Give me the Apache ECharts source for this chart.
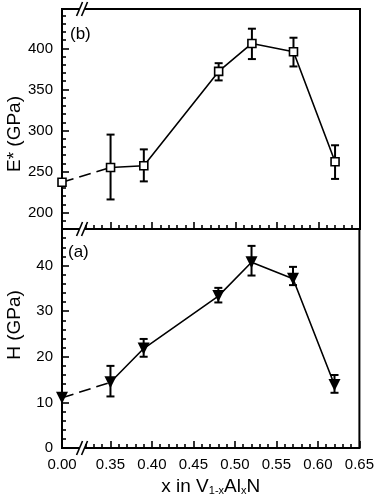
<!DOCTYPE html>
<html>
<head>
<meta charset="utf-8">
<script src="https://cdn.jsdelivr.net/npm/echarts@6/dist/echarts.min.js"></script>
<style>
  html, body { margin: 0; padding: 0; background: #fff; }
  #main { width: 377px; height: 500px; }
</style>
</head>
<body>
<div id="main"></div>
<script>
// composition x of V1-xAlxN
var xValues = [0.00, 0.35, 0.39, 0.48, 0.52, 0.57, 0.62];
// (b) reduced modulus E* (GPa)
var eValues = [237, 255, 257, 372, 406, 396, 262];
var eUpper = [237, 295, 277, 382, 424, 413, 282];
var eLower = [237, 216, 238, 361, 387, 378, 241];
// (a) hardness H (GPa)
var hValues = [11, 14.4, 21.8, 33.3, 40.7, 37.1, 13.8];
var hUpper = [11, 18, 23.9, 35.1, 44.3, 39.7, 16];
var hLower = [11, 11.3, 20, 31.9, 37.8, 35.7, 12.1];

// tick labels
var xTicks = [0.35, 0.40, 0.45, 0.50, 0.55, 0.60, 0.65];
var eTicks = [200, 250, 300, 350, 400];
var hTicks = [0, 10, 20, 30, 40];

// x = 0 sits just left of the axis break
var X_BREAK = 0.2916;
function toAxis(x) { return x === 0 ? X_BREAK : x; }

function minorTicks(from, to, step, majors) {
  var out = [];
  var n = Math.round((to - from) / step);
  for (var i = 0; i <= n; i++) {
    var v = +(from + i * step).toFixed(4);
    if (majors.every(function (m) { return Math.abs(m - v) > 1e-6; })) out.push(v);
  }
  return out;
}

var xMinor = minorTicks(0.32, 0.64, 0.01, xTicks);
var eMinor = minorTicks(190, 440, 10, eTicks);
var hMinor = minorTicks(2, 46, 2, hTicks);

var FONT = 'Liberation Sans, Arial, sans-serif';
var lineW = 2;

function pts(vals) {
  return xValues.map(function (x, i) { return [toAxis(x), vals[i]]; });
}
function bars(lo, hi) {
  return xValues.map(function (x, i) { return [toAxis(x), lo[i], hi[i]]; });
}

function majorX(gridIndex, withLabels) {
  return {
    type: 'value', gridIndex: gridIndex, position: 'bottom',
    min: X_BREAK, max: 0.65,
    splitLine: { show: false },
    axisLine: { lineStyle: { color: '#000', width: lineW } },
    axisTick: { inside: true, length: 7, customValues: xTicks, lineStyle: { color: '#000', width: 1.6 } },
    axisLabel: {
      show: withLabels, customValues: [X_BREAK].concat(xTicks), margin: 9,
      color: '#000', fontSize: 15, fontFamily: FONT,
      formatter: function (v) { return Math.abs(v - X_BREAK) < 1e-6 ? '0.00' : v.toFixed(2); }
    },
    name: withLabels ? 'x in V{s|1-x}Al{s|x}N' : '',
    nameLocation: 'middle', nameGap: 29,
    nameTextStyle: {
      color: '#000', fontSize: 19, fontFamily: FONT,
      rich: { s: { fontSize: 11, fontFamily: FONT, color: '#000', verticalAlign: 'bottom', padding: [6, 0, 0, 0] } }
    }
  };
}
function minorX(gridIndex) {
  return {
    type: 'value', gridIndex: gridIndex, position: 'bottom',
    min: X_BREAK, max: 0.65,
    splitLine: { show: false }, axisLine: { show: false }, axisLabel: { show: false },
    axisTick: { inside: true, length: 4, customValues: xMinor, lineStyle: { color: '#000', width: 1.6 } }
  };
}
function majorY(gridIndex, min, max, ticks) {
  return {
    type: 'value', gridIndex: gridIndex, position: 'left', min: min, max: max,
    splitLine: { show: false },
    axisLine: { show: true, lineStyle: { color: '#000', width: lineW } },
    axisTick: { show: true, inside: true, length: 7, customValues: ticks, lineStyle: { color: '#000', width: 1.6 } },
    axisLabel: { customValues: ticks, margin: 9, color: '#000', fontSize: 15, fontFamily: FONT }
  };
}
function minorY(gridIndex, min, max, ticks) {
  return {
    type: 'value', gridIndex: gridIndex, position: 'left', min: min, max: max,
    splitLine: { show: false }, axisLine: { show: false }, axisLabel: { show: false },
    axisTick: { show: true, inside: true, length: 4, customValues: ticks, lineStyle: { color: '#000', width: 1.6 } }
  };
}

function errorSeries(xi, yi, data) {
  return {
    type: 'custom', xAxisIndex: xi, yAxisIndex: yi, z: 3, data: data,
    renderItem: function (params, api) {
      var lo = api.value(1), hi = api.value(2);
      if (hi - lo < 1e-6) return null;
      var a = api.coord([api.value(0), lo]);
      var b = api.coord([api.value(0), hi]);
      var w = 4;
      var st = { stroke: '#000', lineWidth: 2 };
      return {
        type: 'group', children: [
          { type: 'line', shape: { x1: a[0], y1: a[1], x2: b[0], y2: b[1] }, style: st },
          { type: 'line', shape: { x1: a[0] - w, y1: a[1], x2: a[0] + w, y2: a[1] }, style: st },
          { type: 'line', shape: { x1: b[0] - w, y1: b[1], x2: b[0] + w, y2: b[1] }, style: st }
        ]
      };
    }
  };
}

function lineSeries(xi, yi, data, dashed) {
  return {
    type: 'line', xAxisIndex: xi, yAxisIndex: yi, data: data, z: 2,
    showSymbol: false, symbol: 'none', silent: true,
    lineStyle: { color: '#000', width: 1.6, type: dashed ? [12, 6] : 'solid' }
  };
}

var ePts = pts(eValues);
var hPts = pts(hValues);

var chart = echarts.init(document.getElementById('main'));

var option = {
  animation: false,
  backgroundColor: '#fff',
  grid: [
    { left: 62, right: 17, top: 9, height: 220, show: true, borderColor: '#000', borderWidth: lineW, backgroundColor: 'transparent' },
    { left: 62, right: 17, top: 229, height: 219, show: true, borderColor: '#000', borderWidth: lineW, backgroundColor: 'transparent' }
  ],
  xAxis: [majorX(0, false), minorX(0), majorX(1, true), minorX(1)],
  yAxis: [majorY(0, 180, 448, eTicks), minorY(0, 180, 448, eMinor), majorY(1, 0, 48, hTicks), minorY(1, 0, 48, hMinor)],
  series: [
    lineSeries(0, 0, ePts.slice(0, 2), true),
    lineSeries(0, 0, ePts.slice(1), false),
    errorSeries(0, 0, bars(eLower, eUpper)),
    {
      type: 'scatter', xAxisIndex: 0, yAxisIndex: 0, data: ePts, z: 5,
      symbol: 'rect', symbolSize: 8,
      itemStyle: { color: '#fff', borderColor: '#000', borderWidth: 1.6, opacity: 1 }
    },
    lineSeries(2, 2, hPts.slice(0, 2), true),
    lineSeries(2, 2, hPts.slice(1), false),
    errorSeries(2, 2, bars(hLower, hUpper)),
    {
      type: 'scatter', xAxisIndex: 2, yAxisIndex: 2, data: hPts, z: 5,
      symbol: 'triangle', symbolRotate: 180, symbolSize: [12, 12],
      itemStyle: { color: '#000', opacity: 1 }
    }
  ]
};
chart.setOption(option);

// axis breaks, panel tags and y titles
var xb = chart.convertToPixel({ xAxisIndex: 0 }, 0.3157);
var yLines = [
  chart.convertToPixel({ yAxisIndex: 0 }, 448),
  chart.convertToPixel({ yAxisIndex: 0 }, 180),
  chart.convertToPixel({ yAxisIndex: 2 }, 0)
];
var graphics = [];
yLines.forEach(function (y) {
  graphics.push({ type: 'rect', z: 100, shape: { x: xb - 3, y: y - 2.5, width: 6, height: 5 }, style: { fill: '#fff' } });
  [-2.5, 2.5].forEach(function (d) {
    graphics.push({ type: 'line', z: 101, shape: { x1: xb + d - 3, y1: y + 7, x2: xb + d + 3, y2: y - 7 }, style: { stroke: '#000', lineWidth: 1.6 } });
  });
});
graphics.push({ type: 'text', z: 100, x: 70, y: 26, style: { text: '(b)', fontSize: 17, fontFamily: FONT, fill: '#000' } });
graphics.push({ type: 'text', z: 100, x: 68, y: 244, style: { text: '(a)', fontSize: 17, fontFamily: FONT, fill: '#000' } });
graphics.push({ type: 'text', z: 100, x: 15, y: 134, rotation: Math.PI / 2, style: { text: 'E* (GPa)', fontSize: 19, fontFamily: FONT, fill: '#000', align: 'center', verticalAlign: 'middle' } });
graphics.push({ type: 'text', z: 100, x: 15, y: 325, rotation: Math.PI / 2, style: { text: 'H (GPa)', fontSize: 19, fontFamily: FONT, fill: '#000', align: 'center', verticalAlign: 'middle' } });
chart.setOption({ graphic: graphics });
</script>
</body>
</html>
